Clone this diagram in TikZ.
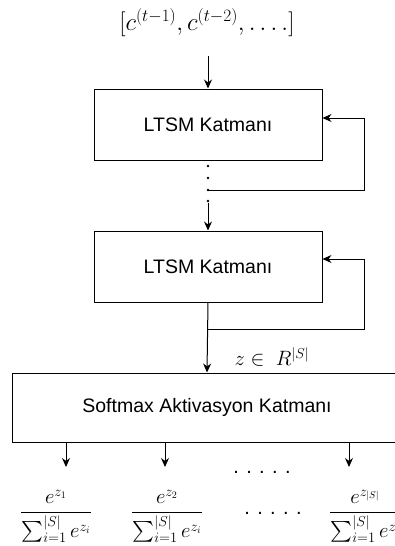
\documentclass[tikz,border=0pt]{standalone}
\usepackage{amsmath}
\usepackage[no-math]{fontspec}
\setmainfont{Liberation Sans}
\usetikzlibrary{arrows.meta,calc}
\begin{document}
\begin{tikzpicture}[x=1pt,y=-1pt,line width=1pt,
  layer/.style={draw,minimum width=228pt,minimum height=71pt,inner sep=0pt,
    font=\fontsize{19.5}{23}\selectfont},
  arr/.style={-{Stealth[length=9pt,width=8pt]}},
  pt/.style={circle,fill,inner sep=0pt,minimum size=2.6pt},
  mathtxt/.style={inner sep=0pt,font=\fontsize{20}{24}\selectfont},
  ellip/.style={inner sep=0pt,font=\fontsize{20}{24}\selectfont}]
\useasboundingbox (0,0) rectangle (395,546);

% input sequence
\node[mathtxt,font=\fontsize{23}{27}\selectfont] (inp) at (207,23) {$[c^{(t-1)}, c^{(t-2)}, \ldots.]$};
\coordinate (inTop) at (208,56);

% stacked LSTM layers
\node[layer] (l1) at (208,124.5) {LTSM Katmanı};
\node[layer] (l2) at (208,266.5) {LTSM Katmanı};
\node[layer,minimum width=390pt,minimum height=69pt] (sm) at (207,407.5)
  {Softmax Aktivasyon Katmanı};

\draw[arr] (inTop) -- (l1.north);

% vertical ellipsis between the layers
\node[pt] (d1) at (208,166) {};
\node[pt] (d2) at (208,178) {};
\node[pt] (d3) at (208,190) {};
\node[pt] (d4) at (208,201) {};
\draw[arr] (d4) -- (l2.north);

% recurrent connection of the first layer
\coordinate (r1) at (364,190);
\coordinate (r1t) at (364,118);
\draw[arr] (d3.center) -- (r1) -- (r1t) -- (l1.east |- r1t);

% recurrent connection of the second layer
\coordinate (s2) at (208,329);
\coordinate (r2) at (364,329);
\coordinate (r2t) at (364,259);
\draw[arr] (s2) -- (r2) -- (r2t) -- (l2.east |- r2t);
\draw[arr] (l2.south) -- (sm.north);
\node[mathtxt,anchor=west] (zlab) at (234,357) {$z\in\ R^{|S|}$};

% softmax outputs
\coordinate (o1) at (66,467);
\coordinate (o2) at (165,467);
\coordinate (o3) at (349,467);
\draw[arr] (sm.south -| o1) -- (o1);
\draw[arr] (sm.south -| o2) -- (o2);
\draw[arr] (sm.south -| o3) -- (o3);

\node[mathtxt,anchor=base] (f1) at (56,518) {$\dfrac{e^{z_1}}{\sum_{i=1}^{|S|} e^{z_i}}$};
\node[mathtxt,anchor=base] (f2) at (167,518) {$\dfrac{e^{z_2}}{\sum_{i=1}^{|S|} e^{z_i}}$};
\node[mathtxt,anchor=base] (f3) at (365,518) {$\dfrac{e^{z_{|S|}}}{\sum_{i=1}^{|S|} e^{z_i}}$};

\node[ellip] (e1) at (262,472) {. . . . .};
\node[ellip] (e2) at (273,513) {. . . . .};
\end{tikzpicture}
\end{document}
